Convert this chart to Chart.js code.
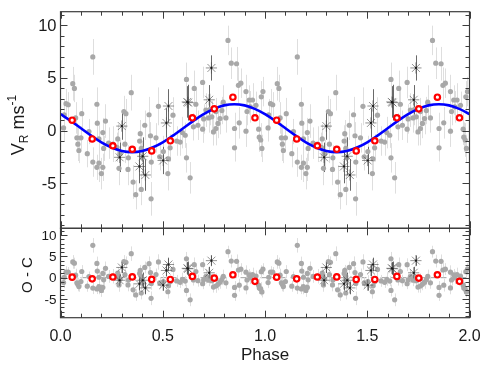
<!DOCTYPE html>
<html>
<head>
<meta charset="utf-8">
<script src="https://cdn.jsdelivr.net/npm/chart.js@4.4.1/dist/chart.umd.min.js"></script>
<style>
  html, body { margin: 0; padding: 0; background: #fff; }
  #wrap { position: relative; width: 491px; height: 370px; }
  #wrap canvas { position: absolute; left: 0; top: 0; }
</style>
</head>
<body>
<div id="wrap">
  <canvas id="velChart" width="491" height="370"></canvas>
  <canvas id="resChart" width="491" height="370"></canvas>
</div>
<script>
// single phase cycle, plotted twice (0-1 and 1-2)
// gray points: phase, velocity, error, residual
const grayPhase = [0.015, 0.018, 0.027, 0.038, 0.060, 0.068, 0.074, 0.080, 0.085, 0.090,
  0.100, 0.104, 0.131, 0.139, 0.158, 0.158, 0.178, 0.180, 0.178, 0.188,
  0.200, 0.207, 0.207, 0.211, 0.220, 0.188, 0.235, 0.257, 0.276, 0.292,
  0.286, 0.310, 0.320, 0.315, 0.332, 0.330, 0.346, 0.355, 0.368, 0.390,
  0.387, 0.395, 0.400, 0.395, 0.412, 0.433, 0.440, 0.444, 0.443, 0.467,
  0.479, 0.485, 0.503, 0.528, 0.525, 0.536, 0.550, 0.568, 0.585, 0.596,
  0.610, 0.616, 0.616, 0.634, 0.654, 0.650, 0.662, 0.672, 0.695, 0.695,
  0.711, 0.724, 0.740, 0.748, 0.760, 0.770, 0.780, 0.789, 0.796, 0.809,
  0.819, 0.835, 0.861, 0.851, 0.851, 0.870, 0.882, 0.874, 0.907, 0.912,
  0.907, 0.923, 0.939, 0.956, 0.969, 0.972, 0.979, 0.985, 0.982, 0.990,
  0.928, 0.700, 0.730, 0.760, 0.280];
const grayVel = [0.25, 1.5, 2.55, 2.45, 4.45, 4.0, 1.2, -0.7, -1.3, -1.9,
  -0.7, 1.6, -2.2, -0.1, 7.0, -3.0, 2.5, 0.7, -3.5, -3.1,
  -4.1, -3.5, -0.2, -1.7, 0.9, -0.8, -1.2, -1.3, -1.6, -2.2,
  -3.6, 1.8, 1.6, -1.3, -2.6, -3.7, 3.6, -4.9, -6.1, -0.3,
  -1.0, -1.7, -2.6, -5.6, 0.5, 1.5, -0.5, -3.0, -6.5, -0.7,
  2.3, -2.5, -2.0, -2.7, -4.1, -1.65, 1.46, -1.0, -1.1, -0.2,
  -0.45, 4.86, -2.6, -4.5, 4.0, 0.35, 2.5, 0.5, 4.57, 0.13,
  1.94, 1.2, 1.3, -0.13, 0.19, 0.67, 1.14, 1.9, 2.7, 1.2,
  8.57, 6.4, 6.35, 0.19, -1.65, 4.3, 4.5, 0.73, 3.7, 1.8,
  -0.06, 2.9, 2.9, 2.4, 0.13, -0.63, -0.9, -1.7, 3.2, 3.7,
  2.25, 1.1, 2.0, 1.8, -0.8];
const grayErr = [1.3, 1.5, 1.4, 1.2, 1.6, 1.3, 1.5, 1.4, 1.6, 1.2,
  1.1, 1.5, 1.3, 1.2, 1.7, 1.4, 1.6, 1.5, 1.2, 1.8,
  1.5, 1.3, 1.4, 1.2, 1.6, 1.3, 1.5, 1.7, 1.4, 1.3,
  1.6, 1.5, 1.4, 1.8, 1.2, 1.5, 1.7, 1.6, 1.4, 1.3,
  1.5, 1.2, 1.6, 1.5, 1.4, 1.7, 1.3, 1.5, 1.6, 1.4,
  1.8, 1.3, 1.5, 1.4, 1.6, 1.3, 1.7, 1.4, 1.3, 1.5,
  1.2, 1.6, 1.4, 1.5, 1.7, 1.3, 1.6, 1.4, 1.5, 1.3,
  1.6, 1.4, 1.5, 1.3, 1.6, 1.4, 1.5, 1.3, 1.6, 1.4,
  1.4, 1.5, 1.6, 1.5, 1.3, 1.7, 1.4, 1.5, 1.6, 1.3,
  1.5, 1.4, 1.6, 1.3, 1.5, 1.4, 1.6, 1.3, 1.5, 1.4,
  1.5, 1.4, 1.5, 1.3, 1.4];
const grayRes = [-1.15, 0.1, 1.3, 1.3, 3.7, 3.4, 0.6, -1.2, -1.6, -2.1,
  -0.9, 1.45, -2.0, 0.25, 7.6, -2.45, 3.35, 1.55, -2.65, -2.1,
  -3.0, -2.3, 1.0, -0.5, 2.2, 0.1, 0.3, 0.35, 0.2, -0.3,
  -1.7, 3.8, 3.6, 0.7, -0.55, -1.7, 5.65, -2.85, -4.05, 1.7,
  1.0, 0.3, -0.65, -3.6, 2.4, 3.3, 1.2, -1.35, -4.85, 0.75,
  3.7, -1.2, -0.9, -1.9, -3.3, -0.95, 1.95, -0.75, -1.1, -0.4,
  -0.8, 4.45, -3.0, -5.2, 3.05, -0.55, 1.45, -0.7, 3.05, -1.4,
  0.25, -0.6, -0.7, -2.2, -1.95, -1.55, -1.1, -0.45, 0.3, -1.2,
  6.1, 3.9, 3.85, -2.3, -4.15, 1.8, 2.0, -1.75, 1.3, -0.55,
  -2.4, 0.65, 0.75, 0.4, -1.75, -2.45, -2.65, -3.35, 1.4, 2.0,
  0.0, -0.5, 0.1, -0.3, 1.1];

// asterisk points
const starPhase = [0.289, 0.300, 0.386, 0.402, 0.415, 0.502, 0.518, 0.528, 0.620, 0.624, 0.727, 0.738];
const starVel = [-2.55, 0.42, -3.42, -2.45, -4.23, -2.85, 0.72, 2.33, 2.72, 2.65, 2.92, 5.95];
const starErr = [1.4, 1.3, 1.6, 1.8, 1.5, 1.3, 1.4, 1.6, 1.5, 1.7, 1.4, 1.2];
const starRes = [-0.6, 2.4, -1.45, -0.6, -2.4, -1.75, 1.7, 3.1, 2.2, 2.1, 1.15, 4.0];

// binned means (red circles)
const binPhase = [0.057, 0.155, 0.256, 0.351, 0.446, 0.537, 0.645, 0.752, 0.843, 0.951];
const binVel = [0.98, -0.8, -1.45, -1.78, -1.94, -0.98, 1.21, 2.06, 3.17, 1.21];
const binRes = [0.12, -0.27, 0.16, 0.18, -0.4, -0.42, 0.3, -0.1, 0.68, -0.86];

// fitted orbit (blue curve), read every 0.05 in phase
const curvePhase = [0.00, 0.05, 0.10, 0.15, 0.20, 0.25, 0.30, 0.35, 0.40, 0.45,
  0.50, 0.55, 0.60, 0.65, 0.70, 0.75, 0.80, 0.85, 0.90, 0.95,
  1.00, 1.05, 1.10, 1.15, 1.20, 1.25, 1.30, 1.35, 1.40, 1.45,
  1.50, 1.55, 1.60, 1.65, 1.70, 1.75, 1.80, 1.85, 1.90, 1.95, 2.00];
const curveVel = [1.56, 0.92, 0.22, -0.48, -1.12, -1.62, -1.95, -2.06, -1.95, -1.62,
  -1.12, -0.48, 0.22, 0.92, 1.56, 2.06, 2.39, 2.50, 2.39, 2.06,
  1.56, 0.92, 0.22, -0.48, -1.12, -1.62, -1.95, -2.06, -1.95, -1.62,
  -1.12, -0.48, 0.22, 0.92, 1.56, 2.06, 2.39, 2.50, 2.39, 2.06, 1.56];

// axis ticks
const xTicks = [0, 0.5, 1, 1.5, 2];
const xTickLabels = ['0.0', '0.5', '1.0', '1.5', '2.0'];
const yTicks = [-5, 0, 5, 10];

const FONT = '"Liberation Sans", Arial, Helvetica, sans-serif';

// repeat one cycle over phase 0-2
function twoCycles(ph, vals, errs) {
  const out = [];
  [0, 1].forEach(function(c) {
    ph.forEach(function(p, i) {
      out.push({ x: p + c, y: vals[i], e: errs ? errs[i] : 0 });
    });
  });
  return out;
}

function line(ctx, x1, y1, x2, y2) {
  ctx.beginPath();
  ctx.moveTo(x1, y1);
  ctx.lineTo(x2, y2);
  ctx.stroke();
}

// error bars, zero line, box with inward ticks, labels
const framePlugin = {
  id: 'frame',
  beforeDatasetsDraw(chart, args, opts) {
    const { ctx, chartArea: a, scales: { x, y } } = chart;
    ctx.save();
    ctx.beginPath();
    ctx.rect(a.left, a.top, a.right - a.left, a.bottom - a.top);
    ctx.clip();
    if (opts.zeroLine) {
      ctx.strokeStyle = '#a0a0a0';
      ctx.lineWidth = 1;
      ctx.setLineDash([6, 4]);
      const py = y.getPixelForValue(0);
      line(ctx, a.left, py, a.right, py);
      ctx.setLineDash([]);
    }
    const sets = chart.data.datasets.slice().reverse();
    sets.forEach(function(ds) {
      if (!ds.errColor) return;
      ctx.strokeStyle = ds.errColor;
      ctx.lineWidth = 1;
      ds.data.forEach(function(pt) {
        const px = Math.round(x.getPixelForValue(pt.x)) + 0.5;
        line(ctx, px, y.getPixelForValue(pt.y - pt.e), px, y.getPixelForValue(pt.y + pt.e));
      });
    });
    ctx.restore();
  },
  afterDraw(chart, args, opts) {
    const { ctx, chartArea: a, scales: { x, y } } = chart;
    ctx.save();
    ctx.strokeStyle = '#3c3c3c';
    ctx.lineWidth = 1.2;
    ctx.strokeRect(a.left, a.top, a.right - a.left, a.bottom - a.top);
    ctx.lineWidth = 1;
    // x ticks every 0.1
    for (let i = 0; i <= 20; i++) {
      const px = Math.round(x.getPixelForValue(i / 10)) + 0.5;
      const len = i % 5 === 0 ? 7 : 4;
      line(ctx, px, a.bottom, px, a.bottom - len);
      line(ctx, px, a.top, px, a.top + len);
    }
    // y ticks every 1
    for (let v = Math.ceil(y.min); v <= y.max; v++) {
      const py = Math.round(y.getPixelForValue(v)) + 0.5;
      const len = v % 5 === 0 ? 7 : 4;
      line(ctx, a.left, py, a.left + len, py);
      line(ctx, a.right, py, a.right - len, py);
    }
    ctx.fillStyle = '#1a1a1a';
    ctx.font = opts.yFont + 'px ' + FONT;
    ctx.textAlign = 'right';
    ctx.textBaseline = 'middle';
    yTicks.forEach(function(v) {
      ctx.fillText(String(v), a.left - 4, y.getPixelForValue(v) + 1);
    });
    if (opts.showX) {
      ctx.font = '16px ' + FONT;
      ctx.textAlign = 'center';
      xTicks.forEach(function(v, i) {
        ctx.fillText(xTickLabels[i], x.getPixelForValue(v), a.bottom + 19);
      });
      ctx.font = '17px ' + FONT;
      ctx.textBaseline = 'alphabetic';
      ctx.fillText('Phase', (a.left + a.right) / 2, 360);
    }
    // rotated y title, pieces with sub/superscript
    ctx.translate(opts.titleX, opts.titleY);
    ctx.rotate(-Math.PI / 2);
    ctx.textAlign = 'left';
    ctx.textBaseline = 'alphabetic';
    let w = 0;
    opts.title.forEach(function(p) {
      ctx.font = p.size + 'px ' + FONT;
      w += ctx.measureText(p.t).width;
    });
    let cx = -w / 2;
    opts.title.forEach(function(p) {
      ctx.font = p.size + 'px ' + FONT;
      ctx.fillText(p.t, cx, p.dy);
      cx += ctx.measureText(p.t).width;
    });
    ctx.restore();
  }
};

function makeDatasets(binVals, starVals, grayVals, withCurve) {
  const sets = [
    { data: twoCycles(binPhase, binVals), order: 0, pointRadius: 2.7, borderWidth: 2.2,
      borderColor: '#ff0000', backgroundColor: '#ffffff' },
    { data: twoCycles(starPhase, starVals), order: 2, pointRadius: 1.1, borderWidth: 0,
      backgroundColor: '#1a1a1a' },
    { data: twoCycles(starPhase, starVals, starErr), order: 3, pointStyle: 'star', pointRadius: 5.6,
      borderWidth: 0.6, borderColor: '#4a4a4a', backgroundColor: 'rgba(0,0,0,0)', errColor: '#6a6a6a' },
    { data: twoCycles(grayPhase, grayVals, grayErr), order: 4, pointRadius: 2.6, borderWidth: 0,
      backgroundColor: '#a8a8a8', errColor: '#dedede' }
  ];
  if (withCurve) {
    sets.splice(1, 0, {
      data: curvePhase.map(function(p, i) { return { x: p, y: curveVel[i] }; }),
      order: 1, showLine: true, tension: 0.4, pointRadius: 0, borderWidth: 2.6,
      borderColor: '#0000ff', backgroundColor: '#0000ff'
    });
  }
  return sets;
}

function makeChart(id, sets, yMin, yMax, padding, frameOpts) {
  return new Chart(document.getElementById(id).getContext('2d'), {
    type: 'scatter',
    data: { datasets: sets },
    options: {
      responsive: false,
      animation: false,
      devicePixelRatio: 1,
      events: [],
      layout: { padding: padding },
      plugins: { legend: { display: false }, tooltip: { enabled: false }, frame: frameOpts },
      scales: {
        x: { type: 'linear', min: 0, max: 2, display: false },
        y: { type: 'linear', min: yMin, max: yMax, display: false }
      }
    },
    plugins: [framePlugin]
  });
}

makeChart('velChart', makeDatasets(binVel, starVel, grayVel, true), -9.3, 11.3,
  { left: 60.5, right: 21.5, top: 11.7, bottom: 141.7 },
  { yFont: 16.5, showX: false, titleX: 24, titleY: 125,
    title: [{ t: 'V', size: 18, dy: 0 }, { t: 'R', size: 12, dy: 4 },
            { t: ' ms', size: 18, dy: 0 }, { t: '-1', size: 12, dy: -8 }] });

makeChart('resChart', makeDatasets(binRes, starRes, grayRes, false), -9.4, 11.6,
  { left: 60.5, right: 21.5, top: 228.3, bottom: 52.3 },
  { yFont: 13.5, showX: true, zeroLine: true, titleX: 32, titleY: 275,
    title: [{ t: 'O - C', size: 15, dy: 0 }] });
</script>
</body>
</html>
